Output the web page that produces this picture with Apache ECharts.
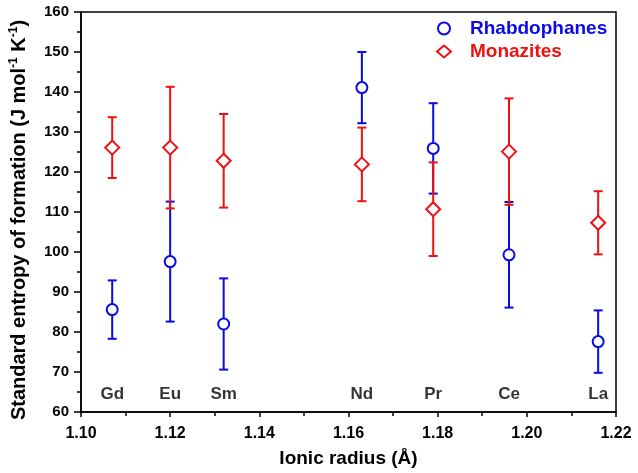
<!DOCTYPE html>
<html>
<head>
<meta charset="utf-8">
<script src="https://cdn.jsdelivr.net/npm/echarts@6/dist/echarts.min.js"></script>
<style>
html,body{margin:0;padding:0;background:#fff;}
#chart{width:638px;height:473px;}
</style>
</head>
<body>
<div id="chart"></div>
<script>
const radii = [1.107, 1.120, 1.132, 1.163, 1.179, 1.196, 1.216];
const elements = ['Gd', 'Eu', 'Sm', 'Nd', 'Pr', 'Ce', 'La'];
const rhabValues = [85.6, 97.6, 82.0, 141.1, 125.9, 99.3, 77.6];
const rhabErrors = [7.3, 15.0, 11.4, 8.9, 11.3, 13.2, 7.8];
const monaValues = [126.1, 126.1, 122.8, 121.9, 110.7, 125.1, 107.3];
const monaErrors = [7.6, 15.2, 11.7, 9.2, 11.7, 13.3, 7.9];
const elementLabelY = 64.5;

const BLUE = '#0a0ae6';
const RED = '#ee1111';
const FONT = 'Arial, "Liberation Sans", sans-serif';

function errData(vals, errs) {
  return radii.map((x, i) => [x, vals[i] - errs[i], vals[i] + errs[i]]);
}
function errSeries(name, vals, errs, color, z) {
  return {
    type: 'custom',
    name: name,
    z: z,
    silent: true,
    data: errData(vals, errs),
    renderItem: function (params, api) {
      const x = api.value(0);
      const lo = api.coord([x, api.value(1)]);
      const hi = api.coord([x, api.value(2)]);
      const hw = 4.5;
      const style = { stroke: color, lineWidth: 2, fill: null };
      return {
        type: 'group',
        children: [
          { type: 'line', shape: { x1: lo[0], y1: lo[1], x2: hi[0], y2: hi[1] }, style: style },
          { type: 'line', shape: { x1: lo[0] - hw, y1: lo[1], x2: lo[0] + hw, y2: lo[1] }, style: style },
          { type: 'line', shape: { x1: hi[0] - hw, y1: hi[1], x2: hi[0] + hw, y2: hi[1] }, style: style }
        ]
      };
    }
  };
}

const chart = echarts.init(document.getElementById('chart'));
chart.setOption({
  animation: false,
  backgroundColor: '#fff',
  textStyle: { fontFamily: FONT },
  grid: {
    left: 79, right: 22, top: 12, bottom: 61,
    show: true, borderColor: '#000', borderWidth: 1.5, backgroundColor: 'transparent'
  },
  legend: {
    orient: 'vertical',
    left: 431,
    top: 14,
    itemGap: 4,
    itemWidth: 14,
    itemHeight: 12,
    selectedMode: false,
    textStyle: { fontFamily: FONT, fontWeight: 'bold', fontSize: 19, padding: [0, 0, 0, 14] },
    data: [
      { name: 'Rhabdophanes', textStyle: { color: BLUE } },
      { name: 'Monazites', textStyle: { color: RED } }
    ]
  },
  xAxis: {
    type: 'value',
    min: 1.10,
    max: 1.22,
    interval: 0.02,
    name: 'Ionic radius (Å)',
    nameLocation: 'middle',
    nameGap: 37,
    nameTextStyle: { fontFamily: FONT, fontWeight: 'bold', fontSize: 19, color: '#000' },
    axisLine: { onZero: false, lineStyle: { color: '#000', width: 1.5 } },
    axisTick: { inside: false, length: 5, lineStyle: { color: '#000', width: 1.5 } },
    minorTick: { show: true, splitNumber: 2, length: 4, lineStyle: { color: '#000', width: 1.5 } },
    axisLabel: { fontFamily: FONT, fontWeight: 'bold', fontSize: 16, color: '#000', margin: 14,
      formatter: v => v.toFixed(2) },
    splitLine: { show: false }
  },
  yAxis: {
    type: 'value',
    min: 60,
    max: 160,
    interval: 10,
    name: 'Standard entropy of formation (J mol{sup|-1} K{sup|-1})',
    nameLocation: 'middle',
    nameGap: 50,
    nameRotate: 90,
    nameTextStyle: {
      fontFamily: FONT, fontWeight: 'bold', fontSize: 20, color: '#000', padding: [0, 16, 0, 0],
      rich: { sup: { fontFamily: FONT, fontWeight: 'bold', fontSize: 12, color: '#000', verticalAlign: 'bottom', padding: [0, 0, 11, 0] } }
    },
    axisLine: { onZero: false, lineStyle: { color: '#000', width: 1.5 } },
    axisTick: { inside: false, length: 7, lineStyle: { color: '#000', width: 1.5 } },
    minorTick: { show: true, splitNumber: 2, length: 4, lineStyle: { color: '#000', width: 1.5 } },
    axisLabel: { fontFamily: FONT, fontWeight: 'bold', fontSize: 15, color: '#000', margin: 12 },
    splitLine: { show: false }
  },
  series: [
    errSeries('RhabErr', rhabValues, rhabErrors, BLUE, 2),
    {
      type: 'scatter', name: 'Rhabdophanes', z: 3,
      symbol: 'circle', symbolSize: 11,
      itemStyle: { color: '#fff', opacity: 1, borderColor: BLUE, borderWidth: 2 },
      data: radii.map((x, i) => [x, rhabValues[i]])
    },
    errSeries('MonaErr', monaValues, monaErrors, RED, 4),
    {
      type: 'scatter', name: 'Monazites', z: 5,
      symbol: 'diamond', symbolSize: 14,
      itemStyle: { color: '#fff', opacity: 1, borderColor: RED, borderWidth: 2 },
      data: radii.map((x, i) => [x, monaValues[i]])
    },
    {
      type: 'scatter', name: 'labels', silent: true, symbolSize: 0,
      data: radii.map((x, i) => [x, elementLabelY, elements[i]]),
      label: { show: true, position: 'inside', formatter: p => p.data[2],
        fontFamily: FONT, fontWeight: 'bold', fontSize: 17, color: '#000' }
    }
  ]
});
</script>
</body>
</html>
